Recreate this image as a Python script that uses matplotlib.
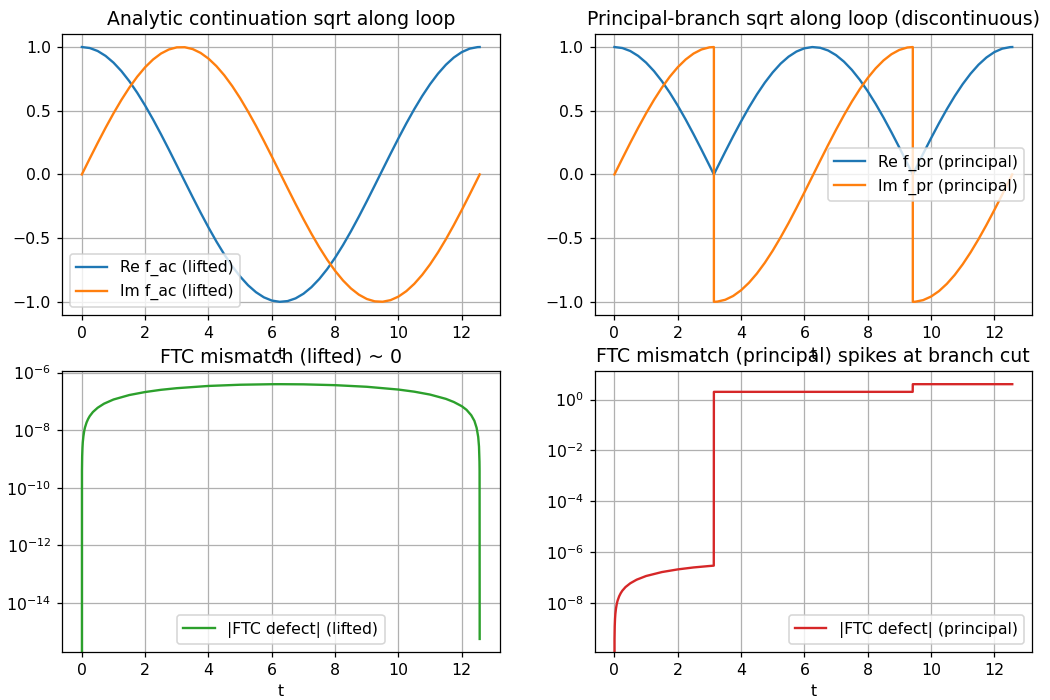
import matplotlib
matplotlib.use("Agg")
import matplotlib.pyplot as plt

# ---- data ----
t_ac = [0.0, 0.25, 0.5, 0.75, 1.0, 1.25, 1.5, 1.75, 2.0, 2.25, 2.5, 2.75, 3.0,
        3.25, 3.5, 3.75, 4.0, 4.25, 4.5, 4.75, 5.0, 5.25, 5.5, 5.75, 6.0, 6.25,
        6.5, 6.75, 7.0, 7.25, 7.5, 7.75, 8.0, 8.25, 8.5, 8.75, 9.0, 9.25, 9.5,
        9.75, 10.0, 10.25, 10.5, 10.75, 11.0, 11.25, 11.5, 11.75, 12.0, 12.25,
        12.5, 12.566]
re_ac = [1.0, 0.9922, 0.9689, 0.9305, 0.8776, 0.8110, 0.7317, 0.6410, 0.5403,
         0.4312, 0.3153, 0.1946, 0.0707, -0.0542, -0.1782, -0.2995, -0.4161,
         -0.5263, -0.6282, -0.7203, -0.8011, -0.8698, -0.9243, -0.9647, -0.9900,
         -0.9999, -0.9941, -0.9729, -0.9365, -0.8854, -0.8206, -0.7429, -0.6536,
         -0.5542, -0.4461, -0.3310, -0.2108, -0.0873, 0.0376, 0.1619, 0.2837,
         0.4010, 0.5121, 0.6152, 0.7087, 0.7911, 0.8612, 0.9179, 0.9602, 0.9875,
         0.9994, 1.0]
im_ac = [0.0, 0.1247, 0.2474, 0.3663, 0.4794, 0.5851, 0.6816, 0.7675, 0.8415,
         0.9023, 0.9490, 0.9809, 0.9975, 0.9985, 0.9840, 0.9541, 0.9093, 0.8503,
         0.7781, 0.6937, 0.5985, 0.4934, 0.3817, 0.2632, 0.1411, 0.0166, -0.1082,
         -0.2313, -0.3508, -0.4648, -0.5716, -0.6694, -0.7568, -0.8324, -0.8950,
         -0.9436, -0.9775, -0.9962, -0.9993, -0.9868, -0.9589, -0.9161, -0.8589,
         -0.7884, -0.7055, -0.6117, -0.5083, -0.3969, -0.2794, -0.1575, -0.0332,
         0.0]

t_pr = [0.0, 0.25, 0.5, 0.75, 1.0, 1.25, 1.5, 1.75, 2.0, 2.25, 2.5, 2.75, 3.0,
        3.1416, 3.1416,
        3.25, 3.5, 3.75, 4.0, 4.25, 4.5, 4.75, 5.0, 5.25, 5.5, 5.75, 6.0, 6.25,
        6.5, 6.75, 7.0, 7.25, 7.5, 7.75, 8.0, 8.25, 8.5, 8.75, 9.0, 9.25,
        9.4248, 9.4248,
        9.5, 9.75, 10.0, 10.25, 10.5, 10.75, 11.0, 11.25, 11.5, 11.75, 12.0,
        12.25, 12.5, 12.566]
re_pr = [1.0, 0.9922, 0.9689, 0.9305, 0.8776, 0.8110, 0.7317, 0.6410, 0.5403,
         0.4312, 0.3153, 0.1946, 0.0707,
         0.0, 0.0,
         0.0542, 0.1782, 0.2995, 0.4161, 0.5263, 0.6282, 0.7203, 0.8011, 0.8698,
         0.9243, 0.9647, 0.9900, 0.9999, 0.9941, 0.9729, 0.9365, 0.8854, 0.8206,
         0.7429, 0.6536, 0.5542, 0.4461, 0.3310, 0.2108, 0.0873,
         0.0, 0.0,
         0.0376, 0.1619, 0.2837, 0.4010, 0.5121, 0.6152, 0.7087, 0.7911, 0.8612,
         0.9179, 0.9602, 0.9875, 0.9994,
         1.0]
im_pr = [0.0, 0.1247, 0.2474, 0.3663, 0.4794, 0.5851, 0.6816, 0.7675, 0.8415,
         0.9023, 0.9490, 0.9809, 0.9975,
         1.0, -1.0,
         -0.9985, -0.9840, -0.9541, -0.9093, -0.8503, -0.7781, -0.6937, -0.5985,
         -0.4934, -0.3817, -0.2632, -0.1411, -0.0166, 0.1082, 0.2313, 0.3508,
         0.4648, 0.5716, 0.6694, 0.7568, 0.8324, 0.8950, 0.9436, 0.9775, 0.9962,
         1.0, -1.0,
         -0.9993, -0.9868, -0.9589, -0.9161, -0.8589, -0.7884, -0.7055, -0.6117,
         -0.5083, -0.3969, -0.2794, -0.1575, -0.0332,
         0.0]

t_def_lifted = [0.0, 0.00314, 0.01, 0.02, 0.03, 0.05, 0.075, 0.1, 0.15, 0.2,
                0.25, 0.35, 0.5, 0.7, 1.0, 1.5, 2.0, 2.5, 3.0, 4.0, 5.0, 6.0,
                6.28, 7.0, 8.0, 9.0, 10.0, 10.5, 11.0, 11.5, 11.75, 12.0, 12.15,
                12.3, 12.4, 12.47, 12.52, 12.545, 12.56, 12.5633, 12.5664]
def_lifted = [0.0, 3.9e-10, 1.25e-9, 2.5e-9, 3.8e-9, 6.2e-9, 9.4e-9, 1.25e-8,
              1.86e-8, 2.47e-8, 3.08e-8, 4.27e-8, 6.0e-8, 8.3e-8, 1.16e-7,
              1.66e-7, 2.11e-7, 2.52e-7, 2.87e-7, 3.43e-7, 3.78e-7, 3.94e-7,
              3.95e-7, 3.9e-7, 3.65e-7, 3.21e-7, 2.57e-7, 2.17e-7, 1.72e-7,
              1.22e-7, 9.5e-8, 6.8e-8, 5.1e-8, 3.3e-8, 2.1e-8, 1.2e-8, 5.8e-9,
              2.7e-9, 8.0e-10, 3.9e-10, 5.6e-16]

t_def_principal = [0.0, 0.00314, 0.01, 0.02, 0.03, 0.05, 0.075, 0.1, 0.15, 0.2,
                   0.25, 0.35, 0.5, 0.7, 1.0, 1.5, 2.0, 2.5, 3.0, 3.1384,
                   3.1416, 6.0, 9.4216, 9.4248, 12.5664]
def_principal = [0.0, 3.9e-10, 1.25e-9, 2.5e-9, 3.8e-9, 6.2e-9, 9.4e-9, 1.25e-8,
                 1.86e-8, 2.47e-8, 3.08e-8, 4.27e-8, 6.0e-8, 8.3e-8, 1.16e-7,
                 1.66e-7, 2.11e-7, 2.52e-7, 2.87e-7, 2.96e-7,
                 2.0, 2.0, 2.0, 4.0, 4.0]

# ---- figure ----
DPI = 113
fig, axes = plt.subplots(2, 2, figsize=(1050 / DPI, 700 / DPI), dpi=DPI)
fig.subplots_adjust(left=0.059, right=0.983, top=0.951, bottom=0.069,
                    wspace=0.217, hspace=0.203)

ax = axes[0, 0]
ax.plot(t_ac, re_ac, color="C0", label="Re f_ac (lifted)")
ax.plot(t_ac, im_ac, color="C1", label="Im f_ac (lifted)")
ax.set_title("Analytic continuation sqrt along loop")
ax.set_xlabel("t")
ax.grid(True)
ax.legend(loc="lower left")

ax = axes[0, 1]
ax.plot(t_pr, re_pr, color="C0", label="Re f_pr (principal)")
ax.plot(t_pr, im_pr, color="C1", label="Im f_pr (principal)")
ax.set_title("Principal-branch sqrt along loop (discontinuous)")
ax.set_xlabel("t")
ax.grid(True)
ax.legend(loc="center right")

ax = axes[1, 0]
ax.plot(t_def_lifted, def_lifted, color="C2", label="|FTC defect| (lifted)")
ax.set_yscale("log")
ax.set_title("FTC mismatch (lifted) ~ 0")
ax.set_xlabel("t")
ax.grid(True)
ax.legend(loc="lower center")

ax = axes[1, 1]
ax.plot(t_def_principal, def_principal, color="C3",
        label="|FTC defect| (principal)")
ax.set_yscale("log")
ax.set_title("FTC mismatch (principal) spikes at branch cut")
ax.set_xlabel("t")
ax.grid(True)
ax.legend(loc="lower right")

fig.savefig("out.png", dpi=DPI)
